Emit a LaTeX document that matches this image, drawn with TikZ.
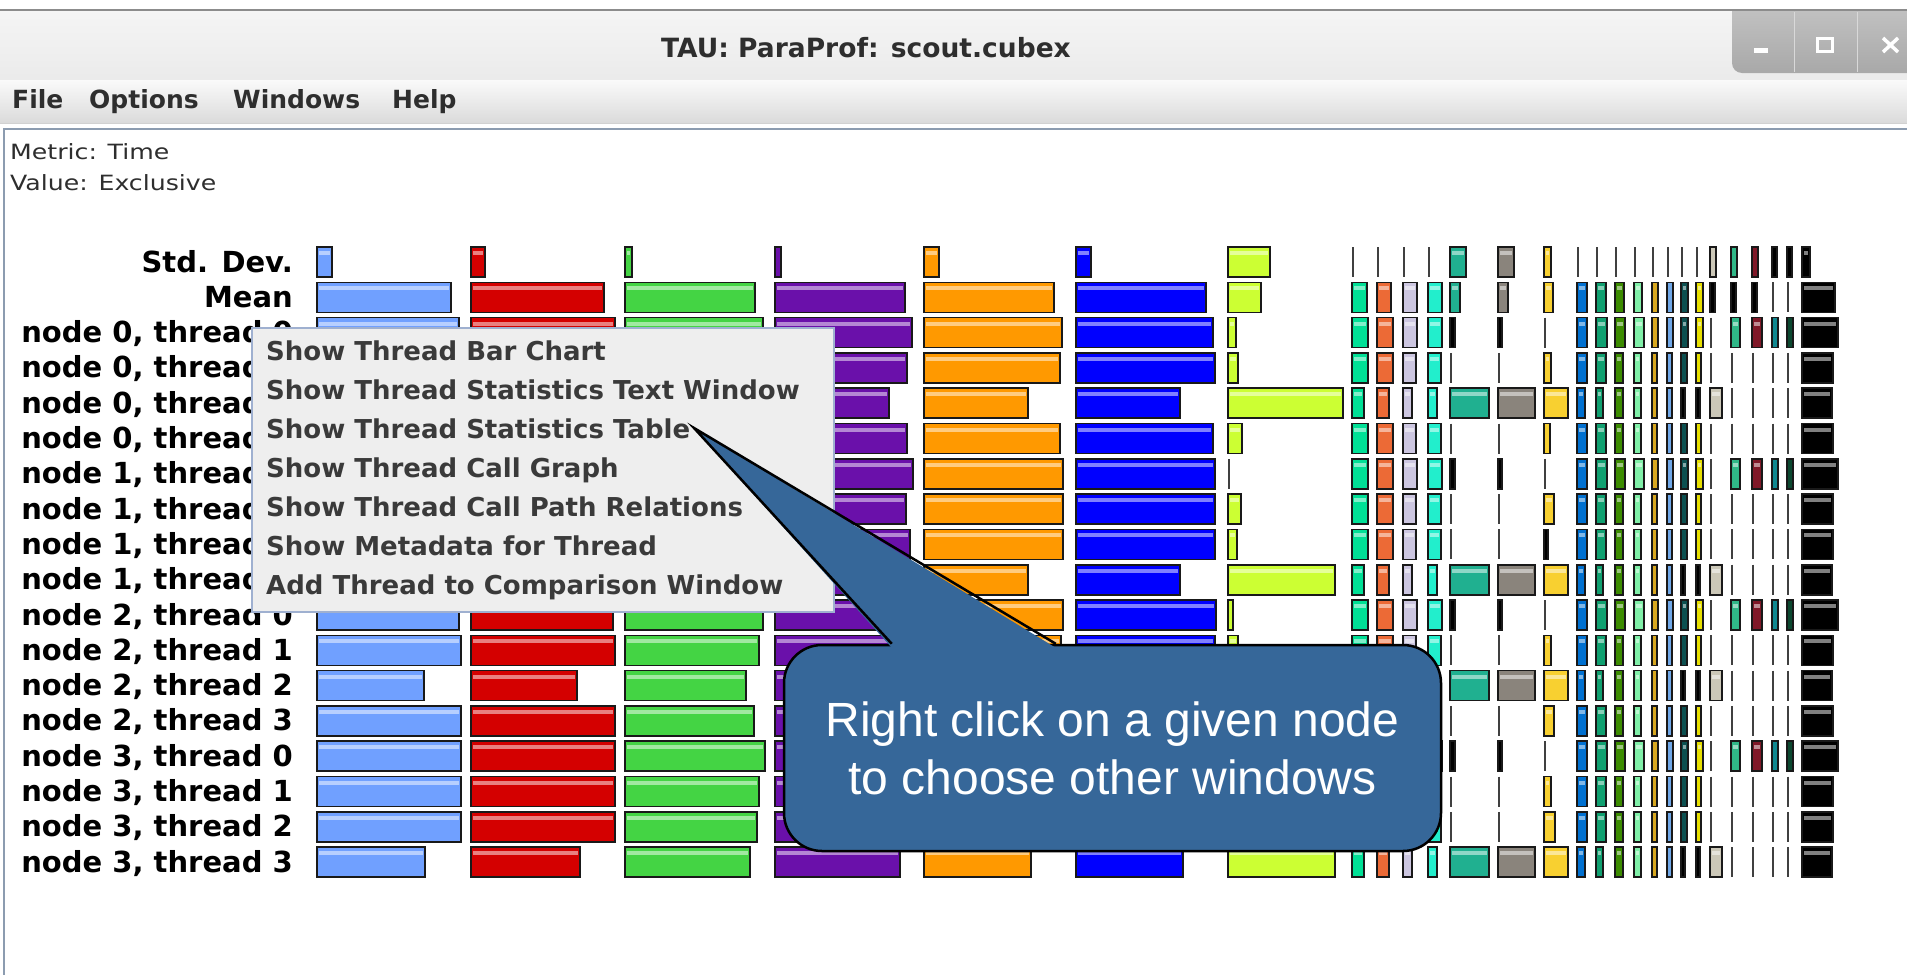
\documentclass[tikz,border=0pt]{standalone}
\usepackage{fontspec}
\setmainfont{DejaVu Sans}
\newfontfamily\widefont[FakeStretch=1.2]{DejaVu Sans}
\newfontfamily\hintfont{Liberation Sans}
\usepackage{tikz}
\usetikzlibrary{calc}
\definecolor{ppInk}{HTML}{2E2E2E}
\definecolor{ppItem}{HTML}{3A3A3A}
\definecolor{ppMenu}{HTML}{EEEEEE}
\definecolor{ppPopEdge}{HTML}{9FB0D0}
\definecolor{ppFrame}{HTML}{8C9CB0}
\definecolor{ppHint}{HTML}{366799}
\definecolor{ppSky}{HTML}{70A0FF}
\definecolor{ppRed}{HTML}{D40000}
\definecolor{ppGreen}{HTML}{44D444}
\definecolor{ppPurple}{HTML}{6A10AA}
\definecolor{ppOrange}{HTML}{FF9900}
\definecolor{ppBlue}{HTML}{0000FF}
\definecolor{ppLime}{HTML}{CCFF33}
\definecolor{ppC8}{HTML}{00E096}
\definecolor{ppC9}{HTML}{EC6A36}
\definecolor{ppC10}{HTML}{CCC6E0}
\definecolor{ppC11}{HTML}{22EECC}
\definecolor{ppC12}{HTML}{20B090}
\definecolor{ppC13}{HTML}{8A847C}
\definecolor{ppC14}{HTML}{F8D030}
\definecolor{ppC15}{HTML}{0070D0}
\definecolor{ppC16}{HTML}{10A070}
\definecolor{ppC17}{HTML}{3C8C00}
\definecolor{ppC18}{HTML}{80F0A8}
\definecolor{ppC19}{HTML}{D8A820}
\definecolor{ppC20}{HTML}{70A8E8}
\definecolor{ppC21}{HTML}{0C5050}
\definecolor{ppC22}{HTML}{E8E000}
\definecolor{ppC23}{HTML}{CCC8B8}
\definecolor{ppC24}{HTML}{30B888}
\definecolor{ppC25}{HTML}{801828}
\definecolor{ppC26}{HTML}{108890}
\definecolor{ppC27}{HTML}{0C4830}
\tikzset{
  barbox/.style={draw=black!90, line width=1.6pt},
  gloss/.style={fill=white, fill opacity=.5},
  tinybar/.style={draw=black!75, line width=2.2pt},
  rowlabel/.style={anchor=base east, inner sep=0pt, font=\fontsize{29}{34}\selectfont\bfseries},
  menuword/.style={anchor=base west, inner sep=0pt, font=\fontsize{25}{30}\selectfont\bfseries, text=ppInk},
  infotext/.style={anchor=base west, inner sep=0pt, font=\widefont\fontsize{21}{25}\selectfont, text=ppInk},
  popup/.style={draw=ppPopEdge, fill=ppMenu, line width=1.5pt, anchor=north west,
    minimum width=582pt, minimum height=284pt, inner sep=0pt},
  popitem/.style={anchor=base west, inner sep=0pt, font=\fontsize{26}{30}\selectfont\bfseries, text=ppItem},
  hint/.style={draw=black, fill=ppHint, line width=2.5pt, rounded corners=38pt,
    minimum width=657pt, minimum height=206pt, text=white, align=center,
    font=\hintfont\fontsize{48}{58}\selectfont}
}
% one bar: x, row, width (0 = hairline, <0 = black), colour
\newcommand\pbar[4]{%
  \pgfmathsetmacro\rt{247+35.3*#2}%
  \ifdim #3pt=0pt
    \draw[tinybar] (#1+1,\rt) -- ++(0,30);
  \else\ifdim #3pt<0pt
    \pgfmathsetmacro\bw{abs(#3)}%
    \draw[barbox, fill=black] (#1,\rt) rectangle ++(\bw,30);
  \else
    \draw[barbox, fill=#4] (#1,\rt) rectangle ++(#3,30);
    \ifdim #3pt>6pt \fill[gloss] (#1+2,\rt+4) rectangle ++(#3-4,4); \fi
  \fi\fi}
\begin{document}
\begin{tikzpicture}[x=1pt, y=-1pt]
  \useasboundingbox (0,0) rectangle (1907,975);
  \fill[white] (0,0) rectangle (1907,975);

  % window chrome
  \shade[top color=white!96!black, bottom color=white!92!black] (0,10) rectangle (1907,80);
  \shade[top color=white!77!black, bottom color=white!66!black, rounded corners=10pt] (1732,0) rectangle (1930,73);
  \fill[white] (0,0) rectangle (1907,9.3);
  \draw[black!45, line width=1.5pt] (0,10) -- (1907,10);
  \draw[white!85!black] (1794,12) -- (1794,72) (1857,12) -- (1857,72);
  \fill[white] (1754,48) rectangle (1768,53);
  \draw[white, line width=3pt] (1817.5,38.5) rectangle (1832.5,51.5);
  \draw[white, line width=3.5pt] (1883,38) -- (1898,52) (1883,52) -- (1898,38);
  \node[anchor=base, inner sep=0pt, font=\fontsize{26.5}{30}\selectfont\bfseries, text=ppInk] (title) at (866,57) {TAU: ParaProf: scout.cubex};

  \shade[top color=white!98!black, bottom color=white!86!black] (0,80) rectangle (1907,122);
  \draw[black!18] (0,123) -- (1907,123);
  \draw[ppFrame, line width=2pt] (3,128.5) -- (1907,128.5);
  \draw[ppFrame, line width=2pt] (3.5,128) -- (3.5,975);
  \node[menuword] (mfile) at (12,108) {File};
  \node[menuword] (mopt) at (89,108) {Options};
  \node[menuword] (mwin) at (233,108) {Windows};
  \node[menuword] (mhelp) at (392,108) {Help};

  \node[infotext] (metric) at (10,159) {Metric: Time};
  \node[infotext] (value) at (10,190) {Value: Exclusive};

  % row labels
  \node[rowlabel] (labstd) at (293,272) {Std. Dev.};
  \node[rowlabel] (labmean) at (293,307.3) {Mean};
  \foreach \n in {0,...,3} {
    \foreach \t in {0,...,3} {
      \node[rowlabel] (lab-\n-\t) at (293,{272+35.3*(2+4*\n+\t)}) {node \n, thread \t};
    }
  }

  % wide columns, one width per row
  \foreach \x/\col/\ws in {
    317/ppSky/{15,134,142,143,106,143,143,143,143,106,142,144,107,144,144,144,144,108},
    471/ppRed/{14,133,144,144,107,144,144,144,144,107,142,144,106,144,144,144,144,109},
    625/ppGreen/{7,130,138,134,121,129,140,134,132,125,138,134,121,129,140,134,132,125},
    775/ppPurple/{6,130,137,132,114,132,138,131,135,114,137,132,114,132,138,131,132,125},
    924/ppOrange/{15,130,138,136,104,136,139,139,139,104,139,137,106,138,139,138,138,107},
    1076/ppBlue/{15,130,137,139,104,137,139,139,139,104,140,139,106,138,140,139,138,107},
    1228/ppLime/{42,33,8,10,115,14,0,13,9,107,5,10,115,12,3,12,12,107}} {
    \foreach \w [count=\r from 0] in \ws {\pbar{\x}{\r}{\w}{\col}}
  }

  % narrow columns: std, mean, thread-0 rows, plain rows, long rows
  \foreach \x/\col/\ws/\wm/\wa/\wb/\wc in {
    1352/ppC8/0/15/16/16/12, 1377/ppC9/0/14/16/16/12,
    1403/ppC10/0/14/14/13/9, 1428/ppC11/0/14/14/13/9,
    1450/ppC12/16/10/-5/0/39, 1498/ppC13/16/10/-4/0/37,
    1544/ppC14/7/9/0/0/24, 1577/ppC15/0/10/10/10/8,
    1596/ppC16/0/10/11/10/7, 1615/ppC17/0/9/10/8/8,
    1634/ppC18/0/8/10/7/7, 1652/ppC19/0/6/6/5/5,
    1667/ppC20/0/6/6/5/5, 1681/ppC21/0/7/7/6/-4,
    1696/ppC22/0/7/7/5/-4, 1710/ppC23/6/-5/0/0/12,
    1731/ppC24/6/-5/9/0/0, 1752/ppC25/6/-5/10/0/0,
    1772/ppC26/-5/0/6/0/0, 1787/ppC27/-5/0/6/0/0,
    1802/black/8/33/36/31/30} {
    \pbar{\x}{0}{\ws}{\col}
    \pbar{\x}{1}{\wm}{\col}
    \foreach \r in {2,6,10,14} {\pbar{\x}{\r}{\wa}{\col}}
    \foreach \r in {3,5,7,8,11,13,15,16} {\pbar{\x}{\r}{\wb}{\col}}
    \foreach \r in {4,9,12,17} {\pbar{\x}{\r}{\wc}{\col}}
  }
  \foreach \r/\w in {3/7,5/6,7/10,8/-4,11/7,13/10,15/7,16/11} {\pbar{1544}{\r}{\w}{ppC14}}

  % context menu
  \node[popup] (menu) at (251,327) {};
  \foreach \item [count=\i from 0] in {Show Thread Bar Chart, Show Thread Statistics Text Window,
    Show Thread Statistics Table, Show Thread Call Graph, Show Thread Call Path Relations,
    Show Metadata for Thread, Add Thread to Comparison Window} {
    \node[popitem] (item\i) at (266,{360+39*\i}) {\item};
  }

  % callout
  \node[hint] (hint) at (1112.5,748) {Right click on a given node\\to choose other windows};
  \coordinate (tip) at (694,428);
  \fill[ppHint] ($(hint.north west)+(109,4)$) -- (tip) -- ($(hint.north west)+(273,4)$) -- cycle;
  \draw[black, line width=2.5pt] ($(hint.north west)+(109,0)$) -- (tip) -- ($(hint.north west)+(273,0)$);
\end{tikzpicture}
\end{document}
